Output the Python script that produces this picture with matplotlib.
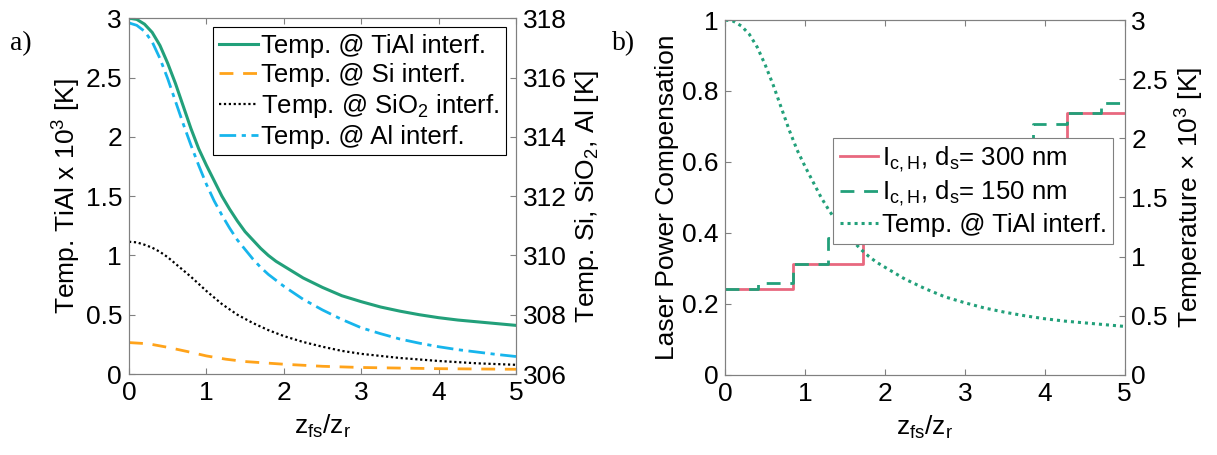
import numpy as np
import matplotlib
matplotlib.use('Agg')
import matplotlib.pyplot as plt
from matplotlib.ticker import FuncFormatter

plt.rcParams['font.family'] = ['Liberation Sans', 'DejaVu Sans']
plt.rcParams['mathtext.fontset'] = 'custom'
plt.rcParams['mathtext.rm'] = 'Liberation Sans'
plt.rcParams['mathtext.it'] = 'Liberation Sans'
plt.rcParams['font.size'] = 19

# panel a) temperatures along z_fs/z_r
x_tial = [0, 0.1, 0.2, 0.3, 0.4, 0.5, 0.6, 0.7, 0.8, 0.9, 1.0, 1.1, 1.2, 1.3, 1.4,
          1.5, 1.6, 1.7, 1.8, 1.9, 2.0, 2.25, 2.5, 2.75, 3.0, 3.25, 3.5, 3.75, 4.0,
          4.25, 4.5, 4.75, 5.0]
t_tial = [3.0, 2.99, 2.95, 2.88, 2.77, 2.62, 2.45, 2.26, 2.07, 1.90, 1.76, 1.63,
          1.50, 1.39, 1.29, 1.20, 1.13, 1.06, 1.00, 0.95, 0.91, 0.81, 0.73, 0.66,
          0.61, 0.565, 0.53, 0.50, 0.475, 0.455, 0.44, 0.425, 0.41]

x_al = x_tial
t_al = [317.84, 317.76, 317.56, 317.2, 316.64, 315.96, 315.2, 314.44, 313.72,
        313.04, 312.4, 311.84, 311.36, 310.92, 310.52, 310.2, 309.88, 309.6,
        309.36, 309.16, 308.96, 308.52, 308.16, 307.84, 307.56, 307.36, 307.18,
        307.04, 306.92, 306.82, 306.74, 306.66, 306.59]

x_sio2 = [0, 0.1, 0.2, 0.3, 0.4, 0.5, 0.6, 0.7, 0.8, 0.9, 1.0, 1.2, 1.4, 1.6, 1.8,
          2.0, 2.25, 2.5, 2.75, 3.0, 3.5, 4.0, 4.5, 5.0]
t_sio2 = [310.46, 310.44, 310.36, 310.26, 310.12, 309.94, 309.72, 309.5, 309.28,
          309.04, 308.8, 308.36, 308.0, 307.72, 307.48, 307.28, 307.08, 306.92,
          306.78, 306.68, 306.54, 306.44, 306.36, 306.31]

x_si = [0, 0.25, 0.5, 0.75, 1.0, 1.25, 1.5, 2.0, 2.5, 3.0, 4.0, 5.0]
t_si = [307.06, 307.02, 306.9, 306.76, 306.61, 306.5, 306.42, 306.33, 306.26,
        306.22, 306.18, 306.16]

# panel b) laser power compensation steps
edges_300 = [0, 0.85, 1.72, 2.57, 3.42, 4.28, 5.0]
comp_300 = [0.241, 0.312, 0.43, 0.54, 0.65, 0.739]
edges_150 = [0, 0.41, 0.85, 1.28, 1.71, 2.14, 2.57, 3.0, 3.42, 3.85, 4.28, 4.71, 5.0]
comp_150 = [0.241, 0.26, 0.312, 0.385, 0.43, 0.48, 0.54, 0.59, 0.65, 0.706, 0.739, 0.767]

c_green = '#22a07a'
c_orange = '#ffa31a'
c_cyan = '#17b5ec'
c_red = '#e8687f'
frame = '#808080'

fmt = FuncFormatter(lambda v, p: '%g' % v)


def style(ax, twin):
    for a in (ax, twin):
        for s in a.spines.values():
            s.set_color(frame)
        a.tick_params(direction='in', length=4, color=frame, labelsize=19, pad=5)
    ax.tick_params(top=True)
    ax.set_xlim(0, 5)
    ax.set_xticks(range(6))
    ax.set_xlabel(r'z$_{\mathregular{fs}}$/z$_{\mathregular{r}}$', labelpad=6)


fig = plt.figure(figsize=(12.17, 4.55), dpi=100)
ax1 = fig.add_axes([0.106, 0.178, 0.318, 0.782])
ax1b = ax1.twinx()
ax2 = fig.add_axes([0.596, 0.176, 0.328, 0.780])
ax2b = ax2.twinx()

# ---- a)
h1, = ax1.plot(x_tial, t_tial, color=c_green, lw=2.2, label='Temp. @ TiAl interf.')
h2, = ax1b.plot(x_si, t_si, color=c_orange, lw=2, ls=(0, (5, 3.5)), label='Temp. @ Si interf.')
h3, = ax1b.plot(x_sio2, t_sio2, color='black', lw=1.6, ls=(0, (1, 1.2)),
                label=r'Temp. @ SiO$_{\mathregular{2}}$ interf.')
h4, = ax1b.plot(x_al, t_al, color=c_cyan, lw=2, ls=(0, (6, 2, 1.5, 2)), label='Temp. @ Al interf.')
ax1.set_ylim(0, 3)
ax1.set_yticks(np.arange(0, 3.01, 0.5))
ax1.yaxis.set_major_formatter(fmt)
ax1b.set_ylim(306, 318)
ax1b.set_yticks(range(306, 319, 2))
ax1.set_ylabel(r'Temp. TiAl x 10$^{\mathregular{3}}$ [K]', labelpad=2)
ax1b.set_ylabel(r'Temp. Si, SiO$_{\mathregular{2}}$, Al [K]', labelpad=4)
style(ax1, ax1b)
leg = ax1b.legend(handles=[h1, h2, h3, h4], loc='upper right', bbox_to_anchor=(0.975, 0.975),
                  borderaxespad=0, fancybox=False, edgecolor='black', framealpha=1,
                  handlelength=1.5, handletextpad=0.15, borderpad=0.25, labelspacing=0.2,
                  fontsize=18.5)
leg.get_frame().set_linewidth(0.8)

# ---- b)
g1, = ax2.step(edges_300, comp_300 + [comp_300[-1]], where='post', color=c_red, lw=2,
               label=r'I$_{\mathregular{c,H}}$, d$_{\mathregular{s}}$= 300 nm')
g2, = ax2.step(edges_150, comp_150 + [comp_150[-1]], where='post', color=c_green, lw=2,
               ls=(0, (5, 3.5)), label=r'I$_{\mathregular{c,H}}$, d$_{\mathregular{s}}$= 150 nm')
g3, = ax2b.plot(x_tial, t_tial, color=c_green, lw=2.2, ls=(0, (1, 1.3)),
                label='Temp. @ TiAl interf.')
ax2.set_ylim(0, 1)
ax2.set_yticks(np.arange(0, 1.01, 0.2))
ax2.yaxis.set_major_formatter(fmt)
ax2b.set_ylim(0, 3)
ax2b.set_yticks(np.arange(0, 3.01, 0.5))
ax2b.yaxis.set_major_formatter(fmt)
ax2.set_ylabel('Laser Power Compensation', labelpad=2)
ax2b.set_ylabel(r'Temperature $\times$ 10$^{\mathregular{3}}$ [K]', labelpad=4)
style(ax2, ax2b)
leg2 = ax2b.legend(handles=[g1, g2, g3], loc='upper right', bbox_to_anchor=(0.972, 0.668),
                   borderaxespad=0, fancybox=False, edgecolor=frame, framealpha=1,
                   handlelength=1.5, handletextpad=0.15, borderpad=0.25, labelspacing=0.2,
                   fontsize=18.5)
leg2.get_frame().set_linewidth(0.8)

fig.text(0.008, 0.89, 'a)', family=['Liberation Serif'], fontsize=20)
fig.text(0.503, 0.89, 'b)', family=['Liberation Serif'], fontsize=20)

fig.savefig('out.png', dpi=100)
